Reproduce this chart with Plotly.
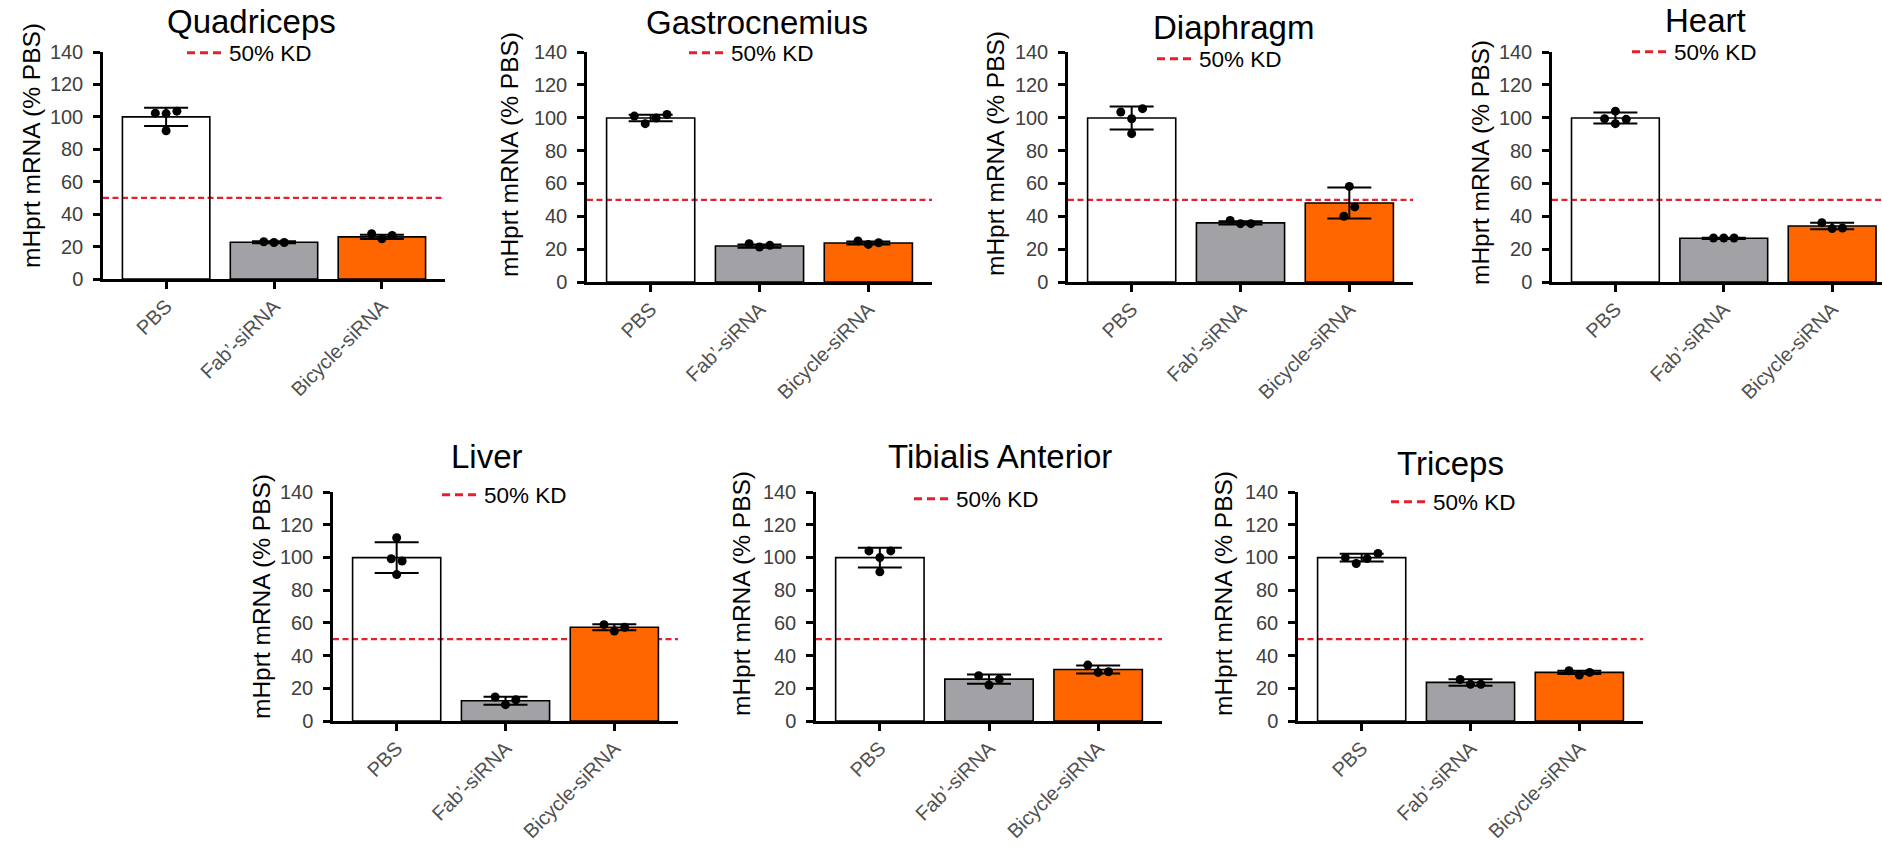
import plotly.graph_objects as go

W, H = 1882, 847
FONT = "Liberation Sans, Arial, sans-serif"

# ---------------- data ----------------
CATEGORIES = ["PBS", "Fab’-siRNA", "Bicycle-siRNA"]
TISSUES = ["Quadriceps", "Gastrocnemius", "Diaphragm", "Heart",
           "Liver", "Tibialis Anterior", "Triceps"]
Y_TITLE = "mHprt mRNA (% PBS)"
KD_LABEL = "50% KD"
KD_LEVEL = 50
Y_TICKS = [0, 20, 40, 60, 80, 100, 120, 140]

quadriceps_mean = [100.0, 22.7, 26.0]
quadriceps_sd = [5.6, 0.6, 1.3]
quadriceps_pts = [[102.3, 102.0, 103.5, 91.4], [23.0, 22.5, 22.5], [27.9, 24.8, 26.8]]

gastrocnemius_mean = [99.8, 21.9, 23.7]
gastrocnemius_sd = [2.0, 1.0, 0.9]
gastrocnemius_pts = [[101.0, 96.4, 99.8, 102.0], [23.3, 21.3, 22.3], [25.0, 22.9, 23.9]]

diaphragm_mean = [99.8, 36.0, 48.1]
diaphragm_sd = [7.0, 1.0, 9.4]
diaphragm_pts = [[103.5, 99.4, 105.5, 90.3], [37.5, 35.5, 35.5], [40.0, 58.2, 45.7]]

heart_mean = [99.8, 26.6, 34.1]
heart_sd = [3.3, 0.4, 2.0]
heart_pts = [[99.4, 104.0, 99.0, 96.4], [26.8, 26.8, 26.8], [36.1, 32.5, 32.9]]

liver_mean = [99.9, 12.4, 57.3]
liver_sd = [9.4, 2.5, 1.8]
liver_pts = [[99.2, 112.0, 97.8, 89.5], [14.7, 10.0, 13.0], [58.9, 55.0, 57.3]]

tibialis_mean = [99.9, 25.6, 31.5]
tibialis_sd = [6.0, 2.8, 2.4]
tibialis_pts = [[104.0, 99.9, 104.0, 91.2], [27.7, 22.0, 25.6], [34.2, 29.7, 30.1]]

triceps_mean = [99.9, 23.6, 29.7]
triceps_sd = [2.4, 2.0, 1.0]
triceps_pts = [[99.9, 96.3, 99.3, 102.4], [25.4, 22.4, 22.4], [30.7, 28.1, 29.7]]

MEANS = [quadriceps_mean, gastrocnemius_mean, diaphragm_mean, heart_mean,
         liver_mean, tibialis_mean, triceps_mean]
SDS = [quadriceps_sd, gastrocnemius_sd, diaphragm_sd, heart_sd,
       liver_sd, tibialis_sd, triceps_sd]
POINTS = [quadriceps_pts, gastrocnemius_pts, diaphragm_pts, heart_pts,
          liver_pts, tibialis_pts, triceps_pts]

# ---------------- layout (positions / styles) ----------------
# horizontal spread of the dots inside each group (category units)
J4_A = [-0.10, 0.0, 0.10, 0.0]
J4_B = [-0.15, -0.05, 0.05, 0.15]
J4_C = [-0.05, 0.0, 0.05, 0.0]
J3 = [-0.095, 0.0, 0.095]
J3_D = [-0.05, 0.0, 0.05]
JITTER = [
    [J4_A, J3, J3],
    [J4_B, J3, J3],
    [J4_A, J3, J3_D],
    [J4_A, J3, J3],
    [J4_C, J3, J3],
    [J4_A, J3, J3],
    [J4_B, J3, J3],
]

# per panel (px): axis left, right, top(140), bottom(0), x max,
# title x/y, legend text x/y, y-title x/y
PANEL_BOX = [
    (103, 445, 52, 279, 2.585, 252, 21, 228, 53, 31, 146),
    (587, 932, 52, 282, 2.585, 757, 22, 730, 53, 509, 155),
    (1068, 1413, 52, 282, 2.585, 1233, 27, 1198, 59, 995, 154),
    (1552, 1882, 52, 282, 2.46, 1705, 20, 1673, 52, 1480, 163),
    (333, 678, 492, 721, 2.585, 487, 457, 483, 495, 261, 597),
    (816, 1162, 492, 721, 2.585, 1000, 457, 955, 499, 741, 594),
    (1298, 1643, 492, 721, 2.585, 1450, 463, 1432, 502, 1223, 594),
]
X_LO = -0.585
BAR_COLORS = ["rgba(255,255,255,0)", "#A2A2A6", "#FF6600"]
RED = "#E3202B"
LINE_DASH = "6px,3.5px"
LEGEND_DASH = "8px,5px"

fig = go.Figure()
layout = dict(
    template="none",
    width=W, height=H, autosize=False,
    margin=dict(l=0, r=0, t=0, b=0, pad=0),
    paper_bgcolor="white", plot_bgcolor="rgba(0,0,0,0)",
    font=dict(family=FONT, color="black"),
    showlegend=True,
    annotations=[], shapes=[],
)

for i, name in enumerate(TISSUES):
    sfx = "" if i == 0 else str(i + 1)
    xname, yname = "x" + sfx, "y" + sfx
    left, right, top, bottom, xhi, tx, ty, lx, ly, yx, yy = PANEL_BOX[i]

    fig.add_trace(go.Bar(
        x=[0, 1, 2], y=MEANS[i], width=0.81,
        marker=dict(color=BAR_COLORS, line=dict(color="black", width=1.6)),
        error_y=dict(type="data", array=SDS[i], color="black", thickness=2, width=22),
        xaxis=xname, yaxis=yname, showlegend=False, hoverinfo="skip",
    ))
    xs, ys = [], []
    for g, pts in enumerate(POINTS[i]):
        for k, v in enumerate(pts):
            xs.append(g + JITTER[i][g][k])
            ys.append(v)
    fig.add_trace(go.Scatter(
        x=xs, y=ys, mode="markers",
        marker=dict(color="black", size=9),
        xaxis=xname, yaxis=yname, showlegend=False, hoverinfo="skip",
    ))
    leg = "legend" if i == 0 else "legend" + str(i + 1)
    fig.add_trace(go.Scatter(
        x=[None], y=[None], mode="lines", name=KD_LABEL,
        line=dict(color=RED, width=3, dash=LEGEND_DASH),
        xaxis=xname, yaxis=yname, legend=leg, showlegend=True,
    ))

    layout["shapes"].append(dict(
        type="line", xref=xname + " domain", x0=0, x1=1,
        yref=yname, y0=KD_LEVEL, y1=KD_LEVEL,
        line=dict(color=RED, width=2.2, dash=LINE_DASH), layer="below",
    ))

    layout["xaxis" + sfx] = dict(
        domain=[left / W, right / W], range=[X_LO, xhi], anchor=yname,
        automargin=False,
        tickmode="array", tickvals=[0, 1, 2], ticktext=CATEGORIES, tickangle=-45,
        ticks="outside", ticklen=7, tickwidth=2.5, tickcolor="black",
        showline=True, linecolor="black", linewidth=2.5,
        showgrid=False, zeroline=False, ticklabelstandoff=-2,
        tickfont=dict(size=20, color="#505050", family=FONT),
    )
    layout["yaxis" + sfx] = dict(
        domain=[1 - bottom / H, 1 - top / H], range=[0, 140], anchor=xname,
        automargin=False,
        tickmode="array", tickvals=Y_TICKS,
        ticks="outside", ticklen=7, tickwidth=2.5, tickcolor="black",
        showline=True, linecolor="black", linewidth=2.5,
        showgrid=False, zeroline=False, ticklabelstandoff=6,
        tickfont=dict(size=20, color="#404040", family=FONT),
    )
    layout[leg] = dict(
        x=(lx - 46) / W, y=1 - ly / H, xanchor="left", yanchor="middle",
        bgcolor="rgba(0,0,0,0)", borderwidth=0, itemwidth=37,
        font=dict(size=22.5, color="black", family=FONT),
    )
    layout["annotations"].append(dict(
        text=name, x=tx / W, y=1 - ty / H, xref="paper", yref="paper",
        xanchor="center", yanchor="middle", showarrow=False,
        font=dict(size=33, color="black", family=FONT),
    ))
    layout["annotations"].append(dict(
        text=Y_TITLE, x=yx / W, y=1 - yy / H, xref="paper", yref="paper",
        xanchor="center", yanchor="middle", showarrow=False, textangle=-90,
        font=dict(size=24.5, color="black", family=FONT),
    ))

fig.update_layout(**layout)
fig.write_html(
    "out.html",
    config={"displayModeBar": False},
    post_script="document.body.style.margin='0';document.body.style.overflow='hidden';",
)
